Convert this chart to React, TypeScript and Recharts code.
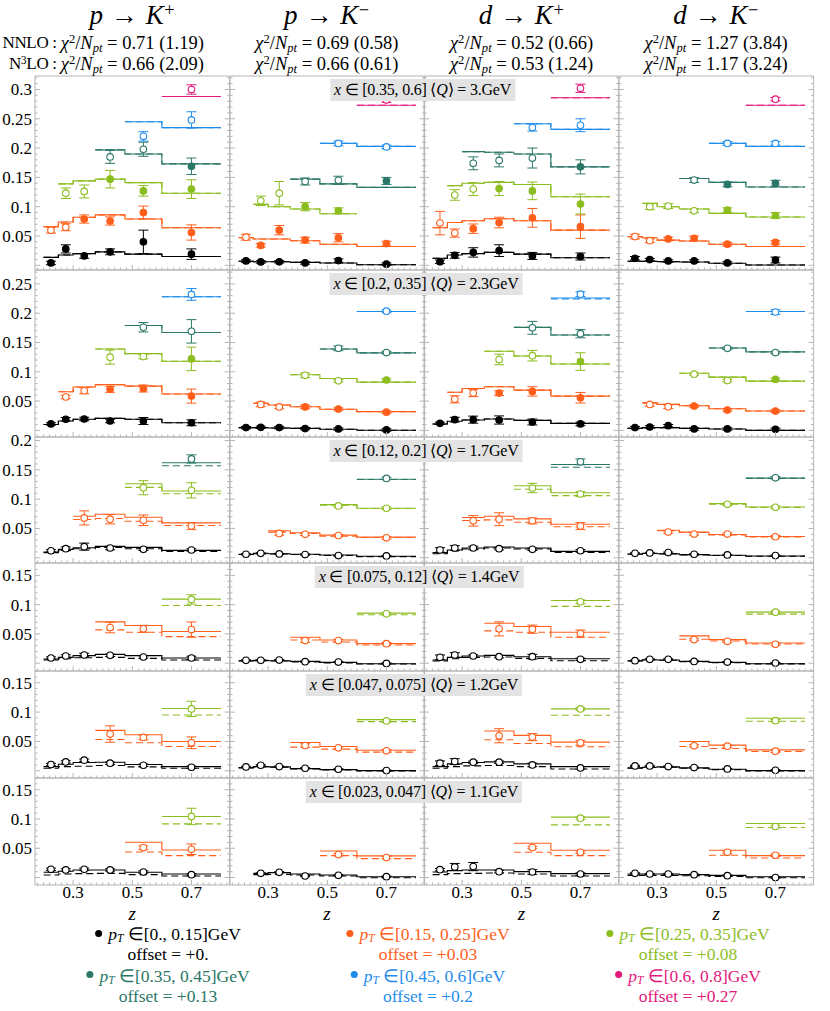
import React from 'react';
import { ComposedChart, Line, Scatter, ErrorBar, XAxis, YAxis } from 'recharts';

// ---------------- data ----------------
const Z_EDGES = [0.2, 0.25, 0.3, 0.375, 0.475, 0.6, 0.8];
const Z_MEAN = [0.225, 0.275, 0.3375, 0.425, 0.5375, 0.7];
const PT_LABELS = ['[0., 0.15]', '[0.15, 0.25]', '[0.25, 0.35]', '[0.35, 0.45]', '[0.45, 0.6]', '[0.6, 0.8]'];
const PT_OFFSETS = ['+0.', '+0.03', '+0.08', '+0.13', '+0.2', '+0.27'];
const PT_COLORS = ['#000000', '#ff5e1a', '#8cbd1f', '#2a7767', '#1f8ceb', '#e2187c'];
const PANEL_TITLES = [['p', '+'], ['p', '−'], ['d', '+'], ['d', '−']];
const CHI2_NNLO = ['0.71 (1.19)', '0.69 (0.58)', '0.52 (0.66)', '1.27 (3.84)'];
const CHI2_N3LO = ['0.66 (2.09)', '0.66 (0.61)', '0.53 (1.24)', '1.17 (3.24)'];
const X_BINS = ['[0.35, 0.6]', '[0.2, 0.35]', '[0.12, 0.2]', '[0.075, 0.12]', '[0.047, 0.075]', '[0.023, 0.047]'];
const Q_MEAN = ['3.', '2.3', '1.7', '1.4', '1.2', '1.1'];
const X_TICK_LABELS = [0.3, 0.5, 0.7];
const Y_TICK_LABELS = [0.05, 0.1, 0.15, 0.2, 0.25, 0.3];

// series: [pT bin, first z bin, y (incl. offset), y error, marker (o=open,f=filled), N3LO steps, NNLO steps (null = same)]
type S = [number, number, number[], number[], string, number[], number[] | null];

const R1C1: S[] = [
  [0, 0, [0.004, 0.028, 0.016, 0.023, 0.040, 0.019], [0.003, 0.007, 0.004, 0.005, 0.020, 0.009], 'ffffff', [0.0136, 0.0176, 0.020, 0.023, 0.019, 0.015], null],
  [1, 0, [0.060, 0.065, 0.079, 0.0756, 0.090, 0.056], [0.005, 0.006, 0.007, 0.007, 0.011, 0.013], 'ooffff', [0.066, 0.074, 0.082, 0.086, 0.079, 0.064], null],
  [2, 1, [0.123, 0.126, 0.147, 0.127, 0.130], [0.009, 0.011, 0.015, 0.009, 0.016], 'oofff', [0.139, 0.144, 0.147, 0.141, 0.123], null],
  [3, 3, [0.185, 0.198, 0.169], [0.011, 0.012, 0.014], 'oof', [0.197, 0.190, 0.173], null],
  [4, 4, [0.220, 0.248], [0.008, 0.014], 'oo', [0.245, 0.235], null],
  [5, 5, [0.300], [0.008], 'o', [0.288], null],
];
const R1C2: S[] = [
  [0, 0, [0.0074, 0.0057, 0.006, 0.004, 0.008, 0.002], [0.002, 0.002, 0.002, 0.002, 0.003, 0.002], 'ffffff', [0.007, 0.006, 0.006, 0.005, 0.004, 0.001], null],
  [1, 0, [0.048, 0.034, 0.060, 0.043, 0.047, 0.037], [0.005, 0.003, 0.008, 0.005, 0.007, 0.004], 'offfff', [0.047, 0.045, 0.045, 0.042, 0.036, 0.032], null],
  [2, 1, [0.110, 0.123, 0.100, 0.093], [0.008, 0.020, 0.007, 0.005], 'ooff', [0.104, 0.100, 0.096, 0.088], null],
  [3, 3, [0.143, 0.145, 0.144], [0.006, 0.007, 0.006], 'oof', [0.147, 0.139, 0.133], null],
  [4, 4, [0.208, 0.202], [0.004, 0.003], 'oo', [0.208, 0.203], null],
  [5, 5, [0.282], [0.004], 'o', [0.273], null],
];
const R1C3: S[] = [
  [0, 0, [0.006, 0.017, 0.022, 0.025, 0.016, 0.015], [0.003, 0.005, 0.008, 0.010, 0.006, 0.006], 'ffffff', [0.012, 0.0176, 0.020, 0.022, 0.019, 0.013], null],
  [1, 0, [0.072, 0.055, 0.0625, 0.073, 0.081, 0.066], [0.020, 0.007, 0.008, 0.009, 0.016, 0.020], 'ooffff', [0.064, 0.073, 0.076, 0.0795, 0.076, 0.060], null],
  [2, 1, [0.120, 0.130, 0.131, 0.127, 0.1045], [0.009, 0.011, 0.012, 0.015, 0.017], 'oofff', [0.136, 0.140, 0.1415, 0.138, 0.117], null],
  [3, 2, [0.174, 0.179, 0.183, 0.168], [0.011, 0.011, 0.017, 0.012], 'ooof', [0.194, 0.193, 0.190, 0.168], null],
  [4, 4, [0.235, 0.239], [0.006, 0.011], 'oo', [0.2415, 0.232], null],
  [5, 5, [0.302], [0.007], 'o', [0.286], null],
];
const R1C4: S[] = [
  [0, 0, [0.012, 0.0097, 0.0074, 0.0074, 0.004, 0.009], [0.003, 0.002, 0.002, 0.002, 0.002, 0.005], 'ffffff', [0.007, 0.0068, 0.0063, 0.0057, 0.0034, 0.0006], null],
  [1, 0, [0.049, 0.042, 0.045, 0.046, 0.036, 0.039], [0.004, 0.003, 0.003, 0.004, 0.003, 0.003], 'ooffff', [0.049, 0.047, 0.043, 0.0415, 0.036, 0.032], null],
  [2, 1, [0.100, 0.101, 0.093, 0.094, 0.085], [0.005, 0.004, 0.003, 0.004, 0.005], 'oooff', [0.106, 0.100, 0.096, 0.0886, 0.0824], null],
  [3, 3, [0.1455, 0.138, 0.140], [0.004, 0.004, 0.005], 'off', [0.148, 0.1415, 0.1335], null],
  [4, 4, [0.208, 0.208], [0.003, 0.003], 'oo', [0.208, 0.203], null],
  [5, 5, [0.2835], [0.003], 'o', [0.273], null],
];

const R2C1: S[] = [
  [0, 0, [0.011, 0.019, 0.0194, 0.016, 0.016, 0.013], [0.002, 0.003, 0.003, 0.003, 0.006, 0.005], 'ffffff', [0.010, 0.016, 0.019, 0.0205, 0.019, 0.013], null],
  [1, 1, [0.057, 0.0676, 0.070, 0.0715, 0.0585], [0.003, 0.005, 0.005, 0.006, 0.012], 'oofff', [0.066, 0.074, 0.078, 0.0755, 0.062], null],
  [2, 3, [0.125, 0.126, 0.122], [0.012, 0.004, 0.020], 'oof', [0.139, 0.131, 0.118], null],
  [3, 4, [0.176, 0.169], [0.008, 0.020], 'oo', [0.179, 0.167], null],
  [4, 5, [0.232], [0.010], 'o', [0.228], null],
];
const R2C2: S[] = [
  [0, 0, [0.0047, 0.0052, 0.0047, 0.003, 0.0024, 0.0007], [0.002, 0.002, 0.002, 0.002, 0.002, 0.002], 'ffffff', [0.0047, 0.0047, 0.004, 0.0035, 0.0018, 0.0001], null],
  [1, 1, [0.0443, 0.040, 0.040, 0.0364, 0.031], [0.004, 0.003, 0.003, 0.002, 0.002], 'oofff', [0.046, 0.0433, 0.0404, 0.036, 0.032], null],
  [2, 3, [0.094, 0.0845, 0.086], [0.004, 0.002, 0.002], 'oof', [0.095, 0.0886, 0.0824], null],
  [3, 4, [0.140, 0.1328], [0.004, 0.002], 'oo', [0.139, 0.1322], null],
  [4, 5, [0.2035], [0.002], 'o', [0.203], null],
];
const R2C3: S[] = [
  [0, 0, [0.0121, 0.0183, 0.0183, 0.0177, 0.0143, 0.011], [0.002, 0.004, 0.006, 0.007, 0.005, 0.003], 'ffffff', [0.011, 0.0155, 0.0177, 0.0194, 0.0171, 0.012], null],
  [1, 1, [0.053, 0.0636, 0.0636, 0.0665, 0.0557], [0.006, 0.006, 0.004, 0.008, 0.009], 'oofff', [0.065, 0.0715, 0.0744, 0.0687, 0.0585], null],
  [2, 3, [0.121, 0.1275, 0.1175], [0.009, 0.009, 0.015], 'oof', [0.135, 0.127, 0.1134], null],
  [3, 4, [0.175, 0.165], [0.011, 0.007], 'oo', [0.1758, 0.1627], null],
  [4, 5, [0.2325], [0.004], 'o', [0.226], [0.2245]],
];
const R2C4: S[] = [
  [0, 0, [0.0047, 0.0058, 0.008, 0.0024, 0.0024, 0.0018], [0.002, 0.002, 0.002, 0.002, 0.002, 0.002], 'ffffff', [0.0035, 0.0047, 0.0047, 0.0035, 0.0024, 0.0], null],
  [1, 1, [0.0443, 0.0404, 0.0415, 0.0347, 0.033], [0.003, 0.003, 0.002, 0.002, 0.002], 'oofff', [0.047, 0.0443, 0.042, 0.037, 0.033], null],
  [2, 3, [0.096, 0.085, 0.087], [0.002, 0.002, 0.002], 'oof', [0.0975, 0.0908, 0.084], null],
  [3, 4, [0.140, 0.1328], [0.002, 0.002], 'oo', [0.1405, 0.134], null],
  [4, 5, [0.202], [0.004], 'o', [0.203], null],
];

const R3C1: S[] = [
  [0, 0, [0.012, 0.0155, 0.019, 0.0167, 0.0144, 0.0133], [0.002, 0.003, 0.006, 0.003, 0.002, 0.002], 'oooooo', [0.0099, 0.0144, 0.0172, 0.0195, 0.0178, 0.0127], [0.0088, 0.0121, 0.0155, 0.0178, 0.0155, 0.011]],
  [1, 2, [0.068, 0.0658, 0.064, 0.054], [0.012, 0.008, 0.009, 0.006], 'oooo', [0.0709, 0.0743, 0.0692, 0.0596], [0.0653, 0.067, 0.0624, 0.0551]],
  [2, 4, [0.1195, 0.115], [0.012, 0.013], 'oo', [0.1263, 0.1138], [0.120, 0.1093]],
  [3, 5, [0.1686], [0.007], 'o', [0.162], [0.157]],
];
const R3C2: S[] = [
  [0, 0, [0.006, 0.0076, 0.0065, 0.0054, 0.0037, 0.0031], [0.001, 0.001, 0.001, 0.001, 0.001, 0.001], 'oooooo', [0.006, 0.0076, 0.007, 0.006, 0.0048, 0.0025], [0.0055, 0.007, 0.0065, 0.0055, 0.004, 0.002]],
  [1, 2, [0.0415, 0.040, 0.038, 0.034], [0.003, 0.002, 0.002, 0.002], 'oooo', [0.046, 0.0427, 0.0387, 0.0353], [0.0438, 0.0415, 0.037, 0.0345]],
  [2, 4, [0.0884, 0.0845], [0.002, 0.002], 'oo', [0.0907, 0.0845], [0.0895, 0.084]],
  [3, 5, [0.1353], [0.002], 'o', [0.134], [0.1335]],
];
const R3C3: S[] = [
  [0, 0, [0.0133, 0.0167, 0.0167, 0.0155, 0.0144, 0.012], [0.004, 0.004, 0.003, 0.002, 0.002, 0.002], 'oooooo', [0.0088, 0.0133, 0.0167, 0.0184, 0.0167, 0.011], [0.007, 0.0116, 0.015, 0.0167, 0.015, 0.0093]],
  [1, 2, [0.063, 0.0658, 0.063, 0.054], [0.009, 0.011, 0.005, 0.006], 'oooo', [0.0686, 0.0709, 0.0664, 0.0573], [0.0636, 0.0647, 0.0607, 0.0528]],
  [2, 4, [0.119, 0.1088], [0.008, 0.004], 'oo', [0.1229, 0.111], [0.117, 0.106]],
  [3, 5, [0.1636], [0.005], 'o', [0.159], [0.1545]],
];
const R3C4: S[] = [
  [0, 0, [0.0076, 0.0082, 0.0088, 0.006, 0.0048, 0.0037], [0.001, 0.001, 0.001, 0.001, 0.001, 0.001], 'oooooo', [0.0065, 0.0076, 0.007, 0.0054, 0.0042, 0.0031], [0.006, 0.0072, 0.0066, 0.005, 0.0038, 0.0027]],
  [1, 2, [0.0438, 0.0404, 0.0404, 0.0359], [0.002, 0.002, 0.002, 0.002], 'oooo', [0.047, 0.0438, 0.0398, 0.0364], [0.046, 0.043, 0.039, 0.0355]],
  [2, 4, [0.0912, 0.0862], [0.002, 0.002], 'oo', [0.0924, 0.0867], [0.0915, 0.086]],
  [3, 5, [0.1364], [0.002], 'o', [0.1359], [0.1355]],
];

const R4C1: S[] = [
  [0, 0, [0.0089, 0.0123, 0.014, 0.0134, 0.0106, 0.0089], [0.002, 0.002, 0.003, 0.002, 0.002, 0.003], 'oooooo', [0.0071, 0.010, 0.0129, 0.0151, 0.0129, 0.0089], [0.0054, 0.0077, 0.0094, 0.010, 0.0083, 0.0054]],
  [1, 3, [0.0609, 0.0586, 0.0574], [0.009, 0.006, 0.013], 'ooo', [0.0706, 0.0643, 0.054], [0.0569, 0.0529, 0.0454]],
  [2, 5, [0.1088], [0.008], 'o', [0.1094], [0.0986]],
];
const R4C2: S[] = [
  [0, 0, [0.0049, 0.0049, 0.0054, 0.0026, 0.002, -0.0003], [0.001, 0.001, 0.001, 0.001, 0.001, 0.001], 'oooooo', [0.0043, 0.0049, 0.0043, 0.0031, 0.0014, -0.0009], [0.0037, 0.0043, 0.0037, 0.002, 0.0003, -0.0014]],
  [1, 3, [0.0386, 0.0386, 0.0334], [0.003, 0.002, 0.002], 'ooo', [0.0443, 0.0397, 0.0334], [0.0397, 0.0363, 0.0311]],
  [2, 5, [0.0843], [0.002], 'o', [0.0854], [0.0826]],
];
const R4C3: S[] = [
  [0, 0, [0.010, 0.014, 0.0123, 0.0111, 0.0111, 0.0066], [0.004, 0.004, 0.002, 0.002, 0.004, 0.002], 'oooooo', [0.0054, 0.010, 0.0123, 0.0134, 0.0111, 0.0077], [0.0037, 0.0077, 0.010, 0.0106, 0.0083, 0.0043]],
  [1, 3, [0.0586, 0.058, 0.0506], [0.012, 0.007, 0.006], 'ooo', [0.0683, 0.0626, 0.0529], [0.0551, 0.0529, 0.0443]],
  [2, 5, [0.1049], [0.003], 'o', [0.1071], [0.0969]],
];
const R4C4: S[] = [
  [0, 0, [0.0043, 0.0066, 0.0066, 0.0031, 0.002, 0.0003], [0.001, 0.001, 0.001, 0.001, 0.001, 0.001], 'oooooo', [0.0043, 0.006, 0.0054, 0.0031, 0.0014, -0.0009], [0.0038, 0.0055, 0.005, 0.0026, 0.001, -0.0012]],
  [1, 3, [0.0403, 0.0374, 0.0323], [0.002, 0.002, 0.002], 'ooo', [0.0466, 0.0403, 0.0346], [0.0409, 0.038, 0.0329]],
  [2, 5, [0.0871], [0.002], 'o', [0.0871], [0.0837]],
];

const R5C1: S[] = [
  [0, 0, [0.0106, 0.0151, 0.018, 0.0129, 0.0094, 0.006], [0.002, 0.002, 0.002, 0.002, 0.002, 0.002], 'oooooo', [0.0071, 0.0111, 0.014, 0.0146, 0.0106, 0.0071], [0.0043, 0.0071, 0.0077, 0.0089, 0.0066, 0.0043]],
  [1, 3, [0.0626, 0.0569, 0.0477], [0.014, 0.004, 0.010], 'ooo', [0.0689, 0.0614, 0.050], [0.0534, 0.0477, 0.0414]],
  [2, 5, [0.1054], [0.013], 'o', [0.106], [0.0951]],
];
const R5C2: S[] = [
  [0, 0, [0.0066, 0.0094, 0.0071, 0.0043, 0.0026, 0.0003], [0.001, 0.001, 0.001, 0.001, 0.001, 0.001], 'oooooo', [0.0054, 0.0071, 0.0066, 0.0037, 0.002, 0.0003], [0.0049, 0.0066, 0.006, 0.0031, 0.0014, -0.0003]],
  [1, 3, [0.0431, 0.0391, 0.034], [0.003, 0.002, 0.002], 'ooo', [0.0483, 0.0414, 0.0351], [0.0403, 0.0369, 0.0317]],
  [2, 5, [0.0849], [0.002], 'o', [0.0871], [0.0837]],
];
const R5C3: S[] = [
  [0, 0, [0.0129, 0.0157, 0.0146, 0.0146, 0.010, 0.0049], [0.004, 0.005, 0.002, 0.002, 0.003, 0.002], 'oooooo', [0.0071, 0.0117, 0.014, 0.0151, 0.0117, 0.0071], [0.0043, 0.0071, 0.0083, 0.0089, 0.0071, 0.0031]],
  [1, 3, [0.0597, 0.0574, 0.0477], [0.012, 0.006, 0.004], 'ooo', [0.0677, 0.0603, 0.0489], [0.0529, 0.0466, 0.0409]],
  [2, 5, [0.1054], [0.002], 'o', [0.1054], [0.0946]],
];
const R5C4: S[] = [
  [0, 0, [0.0083, 0.0083, 0.0071, 0.0054, 0.0031, 0.0009], [0.001, 0.001, 0.001, 0.001, 0.001, 0.001], 'oooooo', [0.0049, 0.006, 0.0066, 0.0049, 0.0026, 0.0003], [0.0043, 0.0055, 0.006, 0.0043, 0.002, -0.0003]],
  [1, 3, [0.0426, 0.042, 0.0334], [0.002, 0.002, 0.002], 'ooo', [0.050, 0.0437, 0.0357], [0.0414, 0.038, 0.0329]],
  [2, 5, [0.0854], [0.002], 'o', [0.0894], [0.0843]],
];

const R6C1: S[] = [
  [0, 0, [0.014, 0.0129, 0.014, 0.0129, 0.0094, 0.0049], [0.002, 0.002, 0.002, 0.002, 0.002, 0.002], 'oooooo', [0.0089, 0.0106, 0.0129, 0.0129, 0.0089, 0.006], [0.0043, 0.006, 0.0066, 0.0071, 0.0049, 0.0026]],
  [1, 4, [0.0511, 0.0483], [0.003, 0.009], 'oo', [0.0603, 0.0471], [0.0437, 0.0374]],
  [2, 5, [0.1043], [0.014], 'o', [0.1043], [0.0917]],
];
const R6C2: S[] = [
  [0, 1, [0.0071, 0.0089, 0.0026, 0.0037, 0.0014], [0.001, 0.001, 0.001, 0.001, 0.001], 'ooooo', [0.0071, 0.0083, 0.006, 0.0043, 0.0014], [0.0049, 0.0054, 0.0043, 0.0026, -0.0003]],
  [1, 4, [0.0391, 0.034], [0.002, 0.002], 'oo', [0.0454, 0.0369], [0.0374, 0.0323]],
];
const R6C3: S[] = [
  [0, 0, [0.0134, 0.018, 0.0186, 0.010, 0.0094, 0.006], [0.002, 0.006, 0.007, 0.002, 0.004, 0.002], 'oooooo', [0.0094, 0.0117, 0.0129, 0.0129, 0.010, 0.0066], [0.0049, 0.0066, 0.0071, 0.0077, 0.006, 0.0026]],
  [1, 4, [0.0511, 0.0431], [0.002, 0.002], 'oo', [0.0586, 0.0466], [0.0431, 0.0374]],
  [2, 5, [0.1014], [0.002], 'o', [0.1031], [0.090]],
];
const R6C4: S[] = [
  [0, 0, [0.0071, 0.006, 0.006, 0.0049, 0.0031, 0.0], [0.001, 0.001, 0.001, 0.001, 0.001, 0.001], 'oooooo', [0.006, 0.006, 0.006, 0.0049, 0.0037, 0.0014], [0.0037, 0.0037, 0.0037, 0.0031, 0.002, -0.0003]],
  [1, 4, [0.0431, 0.038], [0.002, 0.002], 'oo', [0.0466, 0.0374], [0.038, 0.0334]],
  [2, 5, [0.0871], [0.002], 'o', [0.0923], [0.0854]],
];

const GRID: S[][][] = [
  [R1C1, R1C2, R1C3, R1C4],
  [R2C1, R2C2, R2C3, R2C4],
  [R3C1, R3C2, R3C3, R3C4],
  [R4C1, R4C2, R4C3, R4C4],
  [R5C1, R5C2, R5C3, R5C4],
  [R6C1, R6C2, R6C3, R6C4],
];

// ---------------- layout ----------------
const FONT = "'Liberation Serif', 'Times New Roman', serif";
const FRAME = '#b5b5b5';
const COL_X0 = 35;
const COL_W = 194.6;
const ROW_TOP = [76, 270, 437, 563, 671, 778];
const ROW_H = [194, 167, 126, 108, 107, 107];
const Y_DOM: [number, number][] = [
  [-0.008, 0.323], [-0.0113, 0.2737], [-0.0089, 0.206], [-0.0133, 0.171], [-0.0123, 0.170], [-0.0128, 0.170],
];
const X_DOM: [number, number] = [0.171, 0.829];
const PAD = 40;
const ANNOT_CX = [422.5, 426, 426, 419, 414, 414];

const X_TICKS = Array.from({ length: 33 }, (_, i) => +(0.18 + 0.02 * i).toFixed(2));

function isXMajor(v: number) {
  return X_TICK_LABELS.some((t) => Math.abs(t - v) < 1e-6);
}

function makeXTick(side: 'bottom' | 'top', labels: boolean) {
  return (props: any) => {
    const { x, y, payload } = props;
    const v = payload.value;
    const major = isXMajor(v);
    const d = side === 'bottom' ? -1 : 1;
    return (
      <g>
        <line x1={x} x2={x} y1={y} y2={y + d * (major ? 5 : 2.5)} stroke={FRAME} strokeWidth={1} />
        {labels && major ? (
          <text x={x} y={y + 13.5} textAnchor="middle" fontSize={17} fontFamily={FONT} fill="#000">
            {String(v)}
          </text>
        ) : null}
      </g>
    );
  };
}

function makeYTick(side: 'left' | 'right', labels: boolean) {
  return (props: any) => {
    const { x, y, payload } = props;
    const v = payload.value;
    const major = Math.abs(v * 20 - Math.round(v * 20)) < 1e-6;
    const d = side === 'left' ? 1 : -1;
    const lab = labels ? Y_TICK_LABELS.find((t) => Math.abs(t - v) < 1e-6) : undefined;
    return (
      <g>
        <line x1={x} x2={x + d * (major ? 5 : 2.5)} y1={y} y2={y} stroke={FRAME} strokeWidth={1} />
        {lab !== undefined ? (
          <text x={x - 3} y={y} dy="0.35em" textAnchor="end" fontSize={17} fontFamily={FONT} fill="#000">
            {String(lab)}
          </text>
        ) : null}
      </g>
    );
  };
}

const makeShape = (color: string) => (p: any) => {
  if (p.cx == null || p.cy == null) return <g />;
  const open = p.payload && p.payload.open;
  return <circle cx={p.cx} cy={p.cy} r={3.3} fill={open ? '#ffffff' : color} stroke={color} strokeWidth={1.1} />;
};

function stepData(start: number, vals: number[]) {
  const pts = vals.map((v, i) => ({ x: Z_EDGES[start + i], y: v }));
  pts.push({ x: Z_EDGES[start + vals.length], y: vals[vals.length - 1] });
  return pts;
}

function Panel({ row, col }: { row: number; col: number }) {
  const series = GRID[row][col];
  const w = COL_W;
  const h = ROW_H[row];
  const left = COL_X0 + col * COL_W;
  const top = ROW_TOP[row];
  const yDom = Y_DOM[row];
  const yTicks = Array.from({ length: Math.floor(yDom[1] / 0.01 + 1e-9) + 1 }, (_, i) => +(i * 0.01).toFixed(2));
  const M = PAD - 1; // axes take 1px each

  const items: React.ReactNode[] = [];
  series.forEach((s, k) => {
    const [pt, start, ys, es, marks, solid, dashed] = s;
    const color = PT_COLORS[pt];
    items.push(
      <Line key={`d${k}`} data={stepData(start, dashed || solid)} dataKey="y" type="stepAfter" stroke={color}
        strokeWidth={1.1} strokeDasharray="7 4" dot={false} activeDot={false} isAnimationActive={false} />
    );
    items.push(
      <Line key={`s${k}`} data={stepData(start, solid)} dataKey="y" type="stepAfter" stroke={color}
        strokeWidth={1.1} dot={false} activeDot={false} isAnimationActive={false} />
    );
    const pts = ys.map((y, i) => ({ x: Z_MEAN[start + i], y, e: es[i], open: marks[i] === 'o' }));
    items.push(
      <Scatter key={`p${k}`} data={pts} dataKey="y" shape={makeShape(color)} isAnimationActive={false}>
        <ErrorBar dataKey="e" direction="y" width={5} stroke={color} strokeWidth={1} />
      </Scatter>
    );
  });

  return (
    <div style={{ position: 'absolute', left: left - PAD, top: top - PAD }}>
      <ComposedChart width={w + 2 * PAD} height={h + 2 * PAD} margin={{ top: M, right: M, bottom: M, left: M }}>
        <XAxis xAxisId={0} type="number" dataKey="x" domain={X_DOM} allowDataOverflow orientation="bottom" height={1}
          ticks={X_TICKS} interval={0} tickSize={0} tickMargin={0} tickLine={false}
          axisLine={{ stroke: FRAME }} tick={makeXTick('bottom', row === 5)} />
        <XAxis xAxisId="top" type="number" domain={X_DOM} allowDataOverflow orientation="top" height={1}
          ticks={X_TICKS} interval={0} tickSize={0} tickMargin={0} tickLine={false}
          axisLine={{ stroke: FRAME }} tick={makeXTick('top', false)} />
        <YAxis yAxisId={0} type="number" domain={yDom} allowDataOverflow orientation="left" width={1}
          ticks={yTicks} interval={0} tickSize={0} tickMargin={0} tickLine={false}
          axisLine={{ stroke: FRAME }} tick={makeYTick('left', col === 0)} />
        <YAxis yAxisId="right" type="number" domain={yDom} allowDataOverflow orientation="right" width={1}
          ticks={yTicks} interval={0} tickSize={0} tickMargin={0} tickLine={false}
          axisLine={{ stroke: FRAME }} tick={makeYTick('right', false)} />
        {items}
      </ComposedChart>
    </div>
  );
}

const supStyle: React.CSSProperties = { fontSize: '0.68em', verticalAlign: '0.45em', lineHeight: 0 };
const subStyle: React.CSSProperties = { fontSize: '0.68em', verticalAlign: '-0.25em', lineHeight: 0 };
const legendSubStyle: React.CSSProperties = { fontSize: '0.66em', verticalAlign: '-0.18em', lineHeight: 0 };

function Chi2({ value }: { value: string }) {
  return (
    <span>
      <i>χ</i><span style={supStyle}>2</span>/<i>N</i><span style={subStyle}><i>pt</i></span> = {value}
    </span>
  );
}

const prefixStyle: React.CSSProperties = { position: 'absolute', right: '100%', whiteSpace: 'nowrap', fontSize: 17, letterSpacing: '-0.3px' };

function Headers() {
  return (
    <>
      {PANEL_TITLES.map(([a, c], i) => {
        const cx = COL_X0 + (i + 0.5) * COL_W;
        return (
          <React.Fragment key={i}>
            <div style={{ position: 'absolute', left: cx, top: 1, transform: 'translateX(-50%)', fontSize: 27, lineHeight: '28px', whiteSpace: 'nowrap', letterSpacing: '0.02em' }}>
              <i>{a}</i> → <i>K</i><span style={supStyle}>{c}</span>
            </div>
            <div style={{ position: 'absolute', left: cx, top: 33, transform: 'translateX(-50%)', fontSize: 18.5, lineHeight: '20px', whiteSpace: 'nowrap' }}>
              {i === 0 ? <span style={prefixStyle}>NNLO :&nbsp;</span> : null}
              <Chi2 value={CHI2_NNLO[i]} />
            </div>
            <div style={{ position: 'absolute', left: cx, top: 54, transform: 'translateX(-50%)', fontSize: 18.5, lineHeight: '20px', whiteSpace: 'nowrap' }}>
              {i === 0 ? (
                <span style={prefixStyle}>
                  N<span style={supStyle}>3</span>LO :&nbsp;
                </span>
              ) : null}
              <Chi2 value={CHI2_N3LO[i]} />
            </div>
            <div style={{ position: 'absolute', left: cx, top: 903, transform: 'translateX(-50%)', fontSize: 19, lineHeight: '21px', fontStyle: 'italic' }}>
              z
            </div>
          </React.Fragment>
        );
      })}
    </>
  );
}

function Annotations() {
  return (
    <>
      {X_BINS.map((xb, r) => (
        <div key={r} style={{
          position: 'absolute', left: ANNOT_CX[r], top: ROW_TOP[r] + 3, transform: 'translateX(-50%)',
          background: '#e3e3e3', height: 22, lineHeight: '22px', padding: '0 4px', fontSize: 16, letterSpacing: '-0.2px', whiteSpace: 'nowrap',
        }}>
          <i>x</i> ∈ {xb} ⟨<i>Q</i>⟩ = {Q_MEAN[r]}GeV
        </div>
      ))}
    </>
  );
}

const LEGEND_CX = [168, 428, 688];

function Legend() {
  return (
    <>
      {PT_LABELS.map((lab, i) => {
        const cx = LEGEND_CX[i % 3];
        const top = i < 3 ? 924 : 965.5;
        const color = PT_COLORS[i];
        return (
          <div key={i} style={{ position: 'absolute', left: cx, top, transform: 'translateX(-50%)', color, fontSize: 17.5, lineHeight: '20px', textAlign: 'center', whiteSpace: 'nowrap' }}>
            <div style={{ height: 20 }}>
              <span style={{ display: 'inline-block', width: 7, height: 7, borderRadius: '50%', background: color, marginRight: 6, verticalAlign: '0.2em' }} />
              <i>p</i><span style={legendSubStyle}><i>T</i></span> ∈{lab}GeV
            </div>
            <div style={{ height: 20 }}>offset = {PT_OFFSETS[i]}</div>
          </div>
        );
      })}
    </>
  );
}

export default function App() {
  const panels: React.ReactNode[] = [];
  for (let r = 0; r < 6; r++) for (let c = 0; c < 4; c++) panels.push(<Panel key={`${r}-${c}`} row={r} col={c} />);
  return (
    <div style={{ position: 'absolute', left: 0, top: 0, width: 830, height: 1011, background: '#fff', fontFamily: FONT, color: '#000', overflow: 'hidden' }}>
      {panels}
      <Headers />
      <Annotations />
      <Legend />
    </div>
  );
}
